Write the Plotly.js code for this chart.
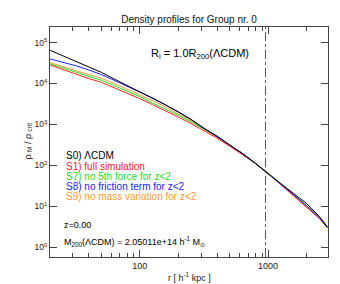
<!DOCTYPE html>
<html>
<head>
<meta charset="utf-8">
<script src="https://cdn.plot.ly/plotly-3.0.1.min.js"></script>
<style>html,body{margin:0;padding:0;background:#fff;}#plot{width:340px;height:284px;}</style>
</head>
<body>
<div id="plot"></div>
<script>
// radius grid [h^-1 kpc]
var radius = [20, 25, 32, 40, 50, 63, 80, 100, 126, 158, 200, 251, 316, 398, 501, 631, 794, 1000, 1259, 1585, 1995, 2512, 2900];
// rho_M / rho_crit per simulation
var rhoS0 = [64600, 47900, 34700, 25400, 18800, 12900, 8910, 6170, 4370, 3020, 1995, 1320, 794, 525, 316, 195, 112, 61.7, 35.5, 20.4, 11.7, 5.62, 3.09];
var rhoS1 = [28200, 21900, 16600, 13200, 10700, 7940, 5750, 4270, 3020, 2190, 1510, 1050, 708, 468, 295, 186, 112, 63.1, 33.9, 17.8, 9.33, 5.01, 3.02];
var rhoS7 = [30200, 24000, 18600, 14800, 12000, 8910, 6460, 4790, 3310, 2400, 1660, 1150, 759, 513, 316, 195, 115, 64.6, 35.5, 19.5, 10.5, 5.37, 3.16];
var rhoS8 = [39800, 33100, 26900, 21400, 16600, 12000, 8510, 6170, 4420, 3020, 2040, 1320, 813, 525, 316, 195, 112, 63.1, 34.7, 19.1, 10.2, 5.25, 3.02];
var rhoS9 = [32400, 25700, 20400, 16600, 13500, 10000, 7240, 5250, 3800, 2690, 1820, 1230, 776, 501, 309, 195, 115, 64.6, 34.7, 18.2, 9.55, 5.13, 2.95];
var R200 = 955;
var seriesNames = ["S0) \u039BCDM", "S1) full simulation", "S7) no 5th force for z<2", "S8) no friction term for z<2", "S9) no mass variation for z<2"];
var seriesColors = ["#000000", "#ff2020", "#22dd22", "#2020ff", "#ff9a30"];
var ytickVals = [1, 10, 100, 1000, 10000, 100000];
var ytickText = ["10<sup>0</sup>", "10<sup>1</sup>", "10<sup>2</sup>", "10<sup>3</sup>", "10<sup>4</sup>", "10<sup>5</sup>"];
var xtickVals = [100, 1000];
var xtickText = ["100", "1000"];
var xminorVals = [20, 30, 40, 50, 60, 70, 80, 90, 200, 300, 400, 500, 600, 700, 800, 900, 2000, 3000];

var ys = [rhoS0, rhoS1, rhoS7, rhoS8, rhoS9];
var order = [4, 2, 1, 3, 0];
var traces = order.map(function (i) {
  return {x: radius, y: ys[i], type: 'scatter', mode: 'lines', name: seriesNames[i],
    line: {color: seriesColors[i], width: 1}, showlegend: false, hoverinfo: 'skip'};
});

var font = 'Liberation Sans, Arial, sans-serif';
function px(x) { return (x - 50) / 278; }
function py(y) { return (257 - y) / 230; }
var anns = [];
var legY = [155.7, 166.3, 176.3, 186.1, 196];
for (var k = 0; k < 5; k++) {
  anns.push({xref: 'paper', yref: 'paper', x: px(64), y: py(legY[k]),
    xanchor: 'left', yanchor: 'middle', showarrow: false, text: seriesNames[k],
    font: {family: font, size: 10, color: seriesColors[k]}});
}
anns.push({xref: 'paper', yref: 'paper', x: px(149), y: py(54), xanchor: 'left', yanchor: 'middle',
  showarrow: false, text: 'R<sub>i</sub> = 1.0R<sub>200</sub>(\u039BCDM)', font: {family: font, size: 11, color: '#000'}});
anns.push({xref: 'paper', yref: 'paper', x: px(62), y: py(224.5), xanchor: 'left', yanchor: 'middle',
  showarrow: false, text: 'z=0.00', font: {family: font, size: 9, color: '#000'}});
anns.push({xref: 'paper', yref: 'paper', x: px(62), y: py(241), xanchor: 'left', yanchor: 'middle',
  showarrow: false, text: 'M<sub>200</sub>(\u039BCDM) = 2.05011e+14 h<sup>-1</sup> M<sub>\u2299</sub>', font: {family: font, size: 9, color: '#000'}});
// axis titles
anns.push({xref: 'paper', yref: 'paper', x: px(189), y: py(276.5), xanchor: 'center', yanchor: 'middle',
  showarrow: false, text: 'r [ h<sup>-1</sup> kpc ]', font: {family: font, size: 9, color: '#222'}});
anns.push({xref: 'paper', yref: 'paper', x: px(27.5), y: py(141), xanchor: 'center', yanchor: 'middle', textangle: -90,
  showarrow: false, text: '\u03C1 <sub>M</sub> / \u03C1 <sub>crit</sub>', font: {family: font, size: 9, color: '#222'}});

var layout = {
  width: 340, height: 284,
  margin: {l: 50, r: 12, t: 27, b: 27, pad: 0},
  paper_bgcolor: '#fff', plot_bgcolor: '#fff',
  font: {family: font, size: 9, color: '#222'},
  title: {text: 'Density profiles for Group nr. 0', font: {family: font, size: 10, color: '#111'}, x: 0.556, xanchor: 'center', y: 0.932, yanchor: 'middle'},
  xaxis: {type: 'log', range: [1.3, 3.467], showgrid: false, zeroline: false, showline: true, linecolor: '#444', linewidth: 1,
    mirror: 'ticks', ticks: 'inside', ticklen: 7, tickcolor: '#444', tickmode: 'array', tickvals: xtickVals, ticktext: xtickText,
    tickfont: {family: font, size: 9, color: '#222'},
    minor: {ticks: 'inside', ticklen: 4, tickcolor: '#444', tickmode: 'array', tickvals: xminorVals, showgrid: false}},
  yaxis: {type: 'log', range: [-0.24, 5.38], showgrid: false, zeroline: false, showline: true, linecolor: '#444', linewidth: 1,
    mirror: 'ticks', ticks: 'inside', ticklen: 7, tickcolor: '#444', tickmode: 'array', tickvals: ytickVals, ticktext: ytickText,
    tickfont: {family: font, size: 8.5, color: '#222'}},
  shapes: [{type: 'line', xref: 'x', yref: 'paper', x0: R200, x1: R200, y0: 0, y1: 1,
    line: {color: '#555', width: 1, dash: 'dashdot'}}],
  annotations: anns
};
Plotly.newPlot('plot', traces, layout, {displayModeBar: false, staticPlot: true});
</script>
</body>
</html>
